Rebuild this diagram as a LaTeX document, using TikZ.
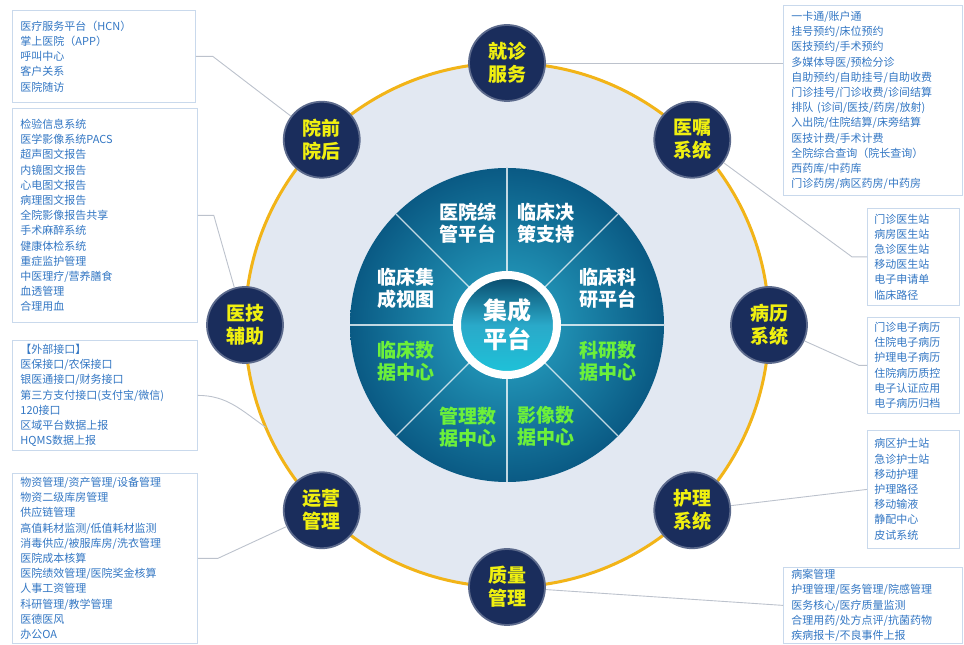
\documentclass[tikz,border=0pt]{standalone}
\usepackage{fontspec}
\setmainfont{Noto Sans CJK SC}
\usepackage{xcolor}
\usetikzlibrary{calc,positioning}
\definecolor{diskgrey}{HTML}{E2E8F2}
\definecolor{ringorange}{HTML}{F2B418}
\definecolor{tealin}{HTML}{2AA9C9}
\definecolor{tealout}{HTML}{0A5A84}
\definecolor{hubfill}{HTML}{1A2D5C}
\definecolor{hubedge}{HTML}{5C6A8C}
\definecolor{hubtext}{HTML}{F0F010}
\definecolor{boxline}{HTML}{C9D9EC}
\definecolor{boxtext}{HTML}{3377C4}
\definecolor{linkgrey}{HTML}{BCC2CC}
\definecolor{datagreen}{HTML}{6CF03A}

\begin{document}
\begin{tikzpicture}[x=1pt,y=1pt]
		\tikzstyle{every node}=[font=\fontsize{11}{15.2}\selectfont]
		\tikzstyle{infobox}=[draw=boxline, line width=0.8pt, fill=white, anchor=north west, align=left, text=boxtext, inner xsep=8pt, inner ysep=3pt]
		\tikzstyle{hub}=[circle, minimum size=76pt, inner sep=0pt, fill=hubfill, draw=hubedge, line width=1.8pt, text=hubtext, align=center, font=\fontsize{19}{23}\selectfont\bfseries]
		\tikzstyle{sector}=[align=center, font=\fontsize{19}{22}\selectfont\bfseries]
		\tikzstyle{link}=[draw=linkgrey, line width=0.9pt]
		\useasboundingbox (0,0) rectangle (964,645);
		\coordinate (C) at (507,320);
		\fill [diskgrey] (C) circle (262);
		\draw [ringorange, line width=3pt] (C) circle (262);
		\shade [inner color=tealin, outer color=tealout] (C) circle (157);
		\foreach \a in {0,45,...,315}
			\draw [white, opacity=0.75, line width=1.3pt] ($(C)+(\a:54)$) -- ($(C)+(\a:157)$);
		\node [circle, minimum size=100pt, draw=white, line width=8pt, top color=tealout!80!black, bottom color=tealin!70!cyan, middle color=tealin, text=white, align=center, font=\fontsize{24}{29}\selectfont\bfseries] (jc) at (C) {集成\\平台};
		\node [sector, white] (s1) at ($(C)+(111:109)$) {医院综\\管平台};
		\node [sector, white] (s2) at ($(C)+(69:109)$) {临床决\\策支持};
		\node [sector, white] (s3) at ($(C)+(20:107)$) {临床科\\研平台};
		\node [sector, white] (s4) at ($(C)+(160:107)$) {临床集\\成视图};
		\node [sector, datagreen] (s5) at ($(C)+(200:107)$) {临床数\\据中心};
		\node [sector, datagreen] (s6) at ($(C)+(340:107)$) {科研数\\据中心};
		\node [sector, datagreen] (s7) at ($(C)+(249:109)$) {管理数\\据中心};
		\node [sector, datagreen] (s8) at ($(C)+(291:109)$) {影像数\\据中心};
		\node [hub] (jz) at ($(C)+(90:262)$) {就诊\\服务};
		\node [hub] (yz) at ($(C)+(45:262)$) {医嘱\\系统};
		\node [hub] (bl) at ($(C)+(0:262)$) {病历\\系统};
		\node [hub] (hl) at ($(C)+(-45:262)$) {护理\\系统};
		\node [hub] (zl) at ($(C)+(-90:262)$) {质量\\管理};
		\node [hub] (yy) at ($(C)+(-135:262)$) {运营\\管理};
		\node [hub] (yj) at ($(C)+(180:262)$) {医技\\辅助};
		\node [hub] (yh) at ($(C)+(135:262)$) {院前\\院后};
		\node [infobox, minimum width=183pt, minimum height=92pt, text width=167pt] (b1) at (12,635) {医疗服务平台（HCN）\\掌上医院（APP）\\呼叫中心\\客户关系\\医院随访};
		\node [infobox, minimum width=185pt, minimum height=214pt, text width=169pt] (b2) at (12,537) {检验信息系统\\医学影像系统PACS\\超声图文报告\\内镜图文报告\\心电图文报告\\病理图文报告\\全院影像报告共享\\手术麻醉系统\\健康体检系统\\重症监护管理\\中医理疗/营养膳食\\血透管理\\合理用血};
		\node [infobox, minimum width=185pt, minimum height=110pt, text width=169pt] (b3) at (12,305) {【外部接口】\\医保接口/农保接口\\银医通接口/财务接口\\第三方支付接口(支付宝/微信)\\120接口\\区域平台数据上报\\HQMS数据上报};
		\node [infobox, minimum width=185pt, minimum height=170pt, text width=169pt] (b4) at (12,172) {物资管理/资产管理/设备管理\\物资二级库房管理\\供应链管理\\高值耗材监测/低值耗材监测\\消毒供应/被服库房/洗衣管理\\医院成本核算\\医院绩效管理/医院奖金核算\\人事工资管理\\科研管理/教学管理\\医德医风\\办公OA};
		\node [infobox, minimum width=179pt, minimum height=190pt, text width=163pt] (b5) at (783,640) {一卡通/账户通\\挂号预约/床位预约\\医技预约/手术预约\\多媒体导医/预检分诊\\自助预约/自助挂号/自助收费\\门诊挂号/门诊收费/诊间结算\\排队 (诊间/医技/药房/放射)\\入出院/住院结算/床旁结算\\医技计费/手术计费\\全院综合查询（院长查询）\\西药库/中药库\\门诊药房/病区药房/中药房};
		\node [infobox, minimum width=92pt, minimum height=97pt, text width=78pt, inner xsep=7pt] (b6) at (867,437) {门诊医生站\\病房医生站\\急诊医生站\\移动医生站\\电子申请单\\临床路径};
		\node [infobox, minimum width=92pt, minimum height=96pt, text width=78pt, inner xsep=7pt] (b7) at (867,328) {门诊电子病历\\住院电子病历\\护理电子病历\\住院病历质控\\电子认证应用\\电子病历归档};
		\node [infobox, minimum width=92pt, minimum height=118pt, text width=78pt, inner xsep=7pt] (b8) at (867,215) {病区护士站\\急诊护士站\\移动护理\\护理路径\\移动输液\\静配中心\\皮试系统};
		\node [infobox, minimum width=179pt, minimum height=76pt, text width=163pt, inner ysep=1pt] (b9) at (783,78) {病案管理\\护理管理/医务管理/院感管理\\医务核心/医疗质量监测\\合理用药/处方点评/抗菌药物\\疾病报卡/不良事件上报};
		\coordinate (r3) at ($(C)+(203:262)$);
		\draw [link] (b1.east) -- ++(17,0) -- (yh);
		\draw [link] (b2.east) -- ++(16,0) -- (yj);
		\draw [link] (b3.east) to [out=0, in=145] (r3);
		\draw [link] (b4.east) -- ++(20,0) -- (yy);
		\draw [link] (jz) -- (jz -| b5.west);
		\draw [link] (b6.west) -- ++(-15,0) -- (yz);
		\draw [link] (b7.west) -- ++(-8,0) -- (bl);
		\draw [link] (b8.west) -- (hl);
		\draw [link] (b9.west) -- (zl);
	\end{tikzpicture}
\end{document}
